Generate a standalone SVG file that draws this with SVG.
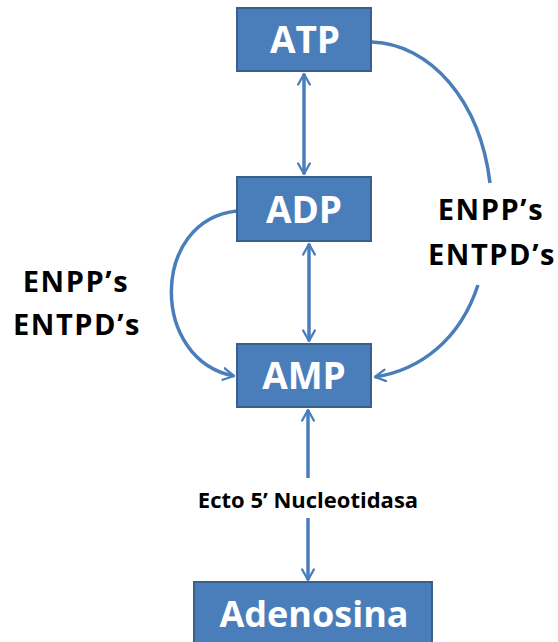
<svg xmlns="http://www.w3.org/2000/svg" width="558" height="642" viewBox="0 0 558 642">
<style>
.box{fill:#4a7ebb;stroke:#38608f;stroke-width:2}
.bt{fill:#fff;font-family:"Open Sans","Liberation Sans",sans-serif;font-weight:bold;text-anchor:middle}
.lb{fill:#000;font-family:"Open Sans","Liberation Sans",sans-serif;font-weight:bold;text-anchor:middle}
.big{font-size:29px;letter-spacing:1.6px}
.c{fill:none;stroke:#4a7ebb;stroke-width:3.5}
</style>
<defs>
<marker id="ah" viewBox="0 0 12 12" refX="10" refY="6" markerWidth="4" markerHeight="4" orient="auto-start-reverse" markerUnits="strokeWidth">
<path d="M1,1 L10,6 L1,11" fill="none" stroke="#4a7ebb" stroke-width="2" stroke-linecap="round" stroke-linejoin="round"/>
</marker>
</defs>
<rect width="558" height="642" fill="#fff"/>
<g id="connectors">
<line class="c" x1="304" y1="74" x2="304" y2="174" marker-start="url(#ah)" marker-end="url(#ah)"/>
<line class="c" x1="309" y1="244" x2="309" y2="341" marker-start="url(#ah)" marker-end="url(#ah)"/>
<line class="c" x1="308" y1="410" x2="308" y2="478" marker-start="url(#ah)"/>
<line class="c" x1="308" y1="518" x2="308" y2="580" marker-end="url(#ah)"/>
<path class="c" d="M372,42 C430,44 480,100 490,183"/>
<path class="c" d="M478,285 C460,340 420,370 375,377" marker-end="url(#ah)"/>
<path class="c" d="M237,211 C150,220 150,360 234,376" marker-end="url(#ah)"/>
</g>
<g id="atp"><rect class="box" x="237" y="8" width="134" height="63"/><text class="bt" x="305" y="53" font-size="37">ATP</text></g>
<g id="adp"><rect class="box" x="237" y="177" width="134" height="64"/><text class="bt" x="304" y="223" font-size="37">ADP</text></g>
<g id="amp"><rect class="box" x="237" y="344" width="134" height="63"/><text class="bt" x="304" y="389" font-size="37">AMP</text></g>
<g id="adenosina"><rect class="box" x="194" y="582" width="238" height="66"/><text class="bt" x="314" y="627" font-size="36">Adenosina</text></g>
<g id="label-right"><text class="lb big" x="491" y="220">ENPP’s</text><text class="lb big" x="492" y="265">ENTPD’s</text></g>
<g id="label-left"><text class="lb big" x="76" y="292">ENPP’s</text><text class="lb big" x="77" y="335">ENTPD’s</text></g>
<g id="label-ecto"><text class="lb" x="308" y="508" font-size="22">Ecto 5’ Nucleotidasa</text></g>
</svg>
